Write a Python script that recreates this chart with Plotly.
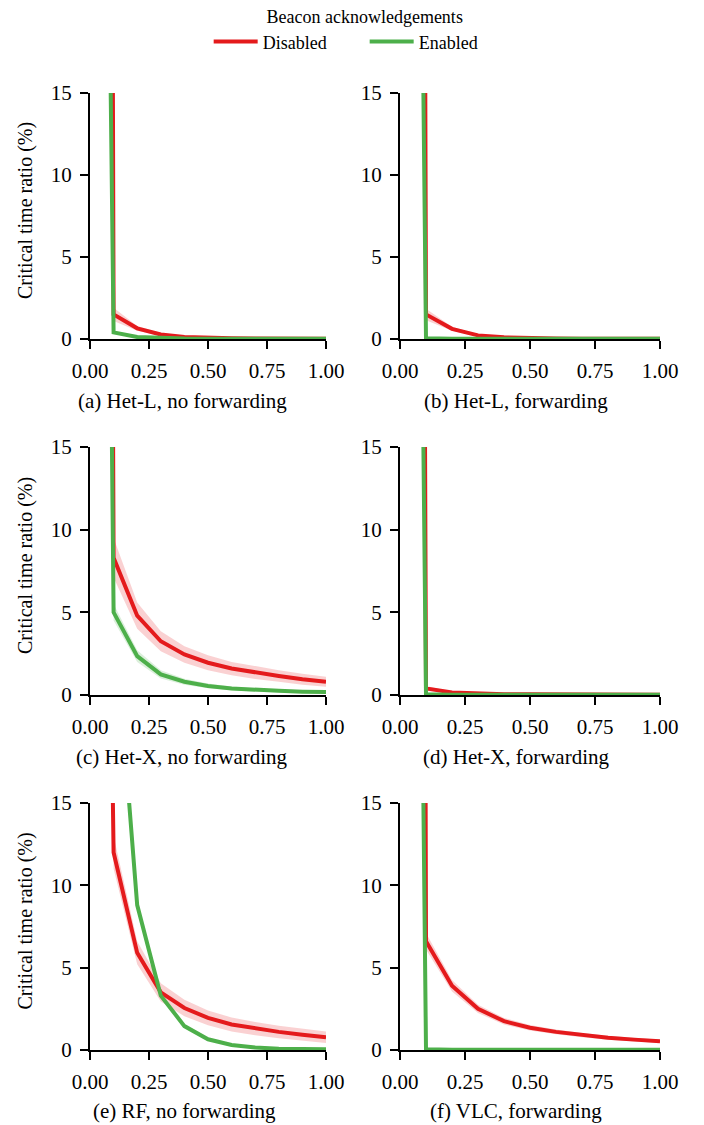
import plotly.graph_objects as go

# ---- data ----
x_vals = [0.05, 0.1, 0.2, 0.3, 0.4, 0.5, 0.6, 0.7, 0.8, 0.9, 1.0]

panel_titles = ["(a) Het-L, no forwarding", "(b) Het-L, forwarding",
                "(c) Het-X, no forwarding", "(d) Het-X, forwarding",
                "(e) RF, no forwarding", "(f) VLC, forwarding"]

series_names = ["Disabled", "Enabled"]

a_dis = [230, 1.5, 0.65, 0.28, 0.12, 0.06, 0.04, 0.03, 0.02, 0.02, 0.02]
a_dis_err = [20, 0.4, 0.15, 0.08, 0.05, 0.03, 0.02, 0.02, 0.01, 0.01, 0.01]
a_en = [60, 0.4, 0.12, 0.05, 0.03, 0.02, 0.02, 0.01, 0.01, 0.01, 0.01]
a_en_err = [5, 0.1, 0.04, 0.02, 0.01, 0.01, 0.01, 0.01, 0.01, 0.01, 0.01]

b_dis = [250, 1.5, 0.62, 0.22, 0.1, 0.05, 0.03, 0.02, 0.02, 0.01, 0.01]
b_dis_err = [20, 0.35, 0.12, 0.06, 0.03, 0.02, 0.01, 0.01, 0.01, 0.01, 0.01]
b_en = [75, 0.05, 0.02, 0.01, 0.01, 0.01, 0.01, 0.01, 0.01, 0.01, 0.01]
b_en_err = [5, 0.02, 0.01, 0.01, 0.01, 0.01, 0.01, 0.01, 0.01, 0.01, 0.01]

c_dis = [175, 8.3, 4.8, 3.25, 2.45, 1.95, 1.6, 1.35, 1.15, 0.95, 0.8]
c_dis_err = [15, 1.2, 0.8, 0.6, 0.5, 0.45, 0.4, 0.38, 0.35, 0.33, 0.3]
c_en = [76, 5.0, 2.35, 1.25, 0.8, 0.55, 0.4, 0.3, 0.25, 0.2, 0.18]
c_en_err = [5, 0.5, 0.35, 0.25, 0.18, 0.14, 0.12, 0.1, 0.1, 0.08, 0.08]

d_dis = [200, 0.4, 0.15, 0.08, 0.05, 0.04, 0.03, 0.02, 0.02, 0.02, 0.02]
d_dis_err = [15, 0.15, 0.05, 0.03, 0.02, 0.02, 0.01, 0.01, 0.01, 0.01, 0.01]
d_en = [75, 0.05, 0.02, 0.01, 0.01, 0.01, 0.01, 0.01, 0.01, 0.01, 0.01]
d_en_err = [5, 0.02, 0.01, 0.01, 0.01, 0.01, 0.01, 0.01, 0.01, 0.01, 0.01]

e_dis = [62, 12.0, 5.9, 3.5, 2.55, 1.95, 1.55, 1.3, 1.1, 0.92, 0.77]
e_dis_err = [6, 1.0, 0.7, 0.55, 0.5, 0.45, 0.42, 0.4, 0.38, 0.36, 0.35]
e_en = [80, 27, 8.8, 3.3, 1.45, 0.65, 0.3, 0.15, 0.08, 0.05, 0.04]
e_en_err = [3, 1.0, 0.3, 0.15, 0.1, 0.05, 0.04, 0.03, 0.02, 0.02, 0.02]

f_dis = [300, 6.6, 3.9, 2.5, 1.75, 1.35, 1.1, 0.9, 0.75, 0.63, 0.53]
f_dis_err = [20, 0.5, 0.35, 0.25, 0.2, 0.17, 0.15, 0.13, 0.12, 0.11, 0.1]
f_en = [75, 0.05, 0.02, 0.01, 0.01, 0.01, 0.01, 0.01, 0.01, 0.01, 0.01]
f_en_err = [5, 0.02, 0.01, 0.01, 0.01, 0.01, 0.01, 0.01, 0.01, 0.01, 0.01]

x_ticks = [0, 0.25, 0.5, 0.75, 1.0]
y_ticks = [0, 5, 10, 15]
y_title = "Critical time ratio (%)"
legend_title = "Beacon acknowledgements"

panels = [
    (a_dis, a_dis_err, a_en, a_en_err),
    (b_dis, b_dis_err, b_en, b_en_err),
    (c_dis, c_dis_err, c_en, c_en_err),
    (d_dis, d_dis_err, d_en, d_en_err),
    (e_dis, e_dis_err, e_en, e_en_err),
    (f_dis, f_dis_err, f_en, f_en_err),
]

# ---- style ----
W, H = 704, 1125
RED = "#e41a1c"
GREEN = "#4daf4a"
RED_BAND = "rgba(228,26,28,0.2)"
GREEN_BAND = "rgba(77,175,74,0.2)"
FONT = "Liberation Serif"

col_px = [(90, 326), (400, 660)]
row_px = [(93, 339), (447, 695), (803, 1050)]
title_px = [(182, 401), (516, 401), (182, 757), (516, 757), (184, 1111), (516, 1111)]

fig = go.Figure()
layout_axes = {}

for i, (dis, dis_err, en, en_err) in enumerate(panels):
    r, c = divmod(i, 2)
    n = i + 1
    xa = "x" if n == 1 else f"x{n}"
    ya = "y" if n == 1 else f"y{n}"
    for vals, errs, col, band, name in [(dis, dis_err, RED, RED_BAND, series_names[0]),
                                         (en, en_err, GREEN, GREEN_BAND, series_names[1])]:
        upper = [v + e for v, e in zip(vals, errs)]
        lower = [max(v - e, 0) for v, e in zip(vals, errs)]
        fig.add_trace(go.Scatter(
            x=x_vals + x_vals[::-1], y=upper + lower[::-1],
            fill="toself", fillcolor=band, line=dict(width=0, color=band),
            mode="lines", hoverinfo="skip", showlegend=False,
            xaxis=xa, yaxis=ya))
    for vals, col, name in [(dis, RED, series_names[0]), (en, GREEN, series_names[1])]:
        fig.add_trace(go.Scatter(
            x=x_vals, y=vals, mode="lines", name=name,
            line=dict(color=col, width=4),
            showlegend=(i == 0), legendgroup=name,
            xaxis=xa, yaxis=ya))

    x0, x1 = col_px[c]
    yt, yb = row_px[r]
    axis_common = dict(showline=True, linewidth=2, linecolor="black",
                       ticks="outside", ticklen=8, tickwidth=2, tickcolor="black",
                       showgrid=False, zeroline=False, automargin=False,
                       tickfont=dict(family=FONT, size=21, color="black"))
    layout_axes["xaxis" if n == 1 else f"xaxis{n}"] = dict(
        domain=[x0 / W, x1 / W], range=[0, 1], tickvals=x_ticks, tickformat=".2f",
        anchor=ya, ticklabelstandoff=4, **axis_common)
    layout_axes["yaxis" if n == 1 else f"yaxis{n}"] = dict(
        domain=[1 - yb / H, 1 - yt / H], range=[0, 15], tickvals=y_ticks,
        anchor=xa, ticklabelstandoff=4, **axis_common)

annotations = []
for i, t in enumerate(panel_titles):
    px, py = title_px[i]
    annotations.append(dict(text=t, x=px / W, y=1 - py / H, xref="paper", yref="paper",
                            xanchor="center", yanchor="middle", showarrow=False,
                            font=dict(family=FONT, size=21, color="black")))
for r in range(3):
    yt, yb = row_px[r]
    annotations.append(dict(text=y_title, x=25 / W, y=1 - ((yt + yb) / 2 - 5) / H,
                            xref="paper", yref="paper", textangle=-90,
                            xanchor="center", yanchor="middle", showarrow=False,
                            font=dict(family=FONT, size=20, color="black")))

fig.update_layout(
    width=W, height=H,
    margin=dict(l=0, r=0, t=0, b=0),
    paper_bgcolor="white", plot_bgcolor="white",
    template="none",
    font=dict(family=FONT, color="black"),
    annotations=annotations,
    legend=dict(orientation="h", x=0.518, xanchor="center", y=1.0, yanchor="top",
                title=dict(text=legend_title, side="top center",
                           font=dict(family=FONT, size=18)),
                font=dict(family=FONT, size=18),
                itemwidth=44, entrywidth=97, bgcolor="rgba(0,0,0,0)"),
    **layout_axes,
)

fig.write_html("out.html", config={"displayModeBar": False},
               post_script="document.body.style.margin='0px';document.body.style.padding='0px';")
